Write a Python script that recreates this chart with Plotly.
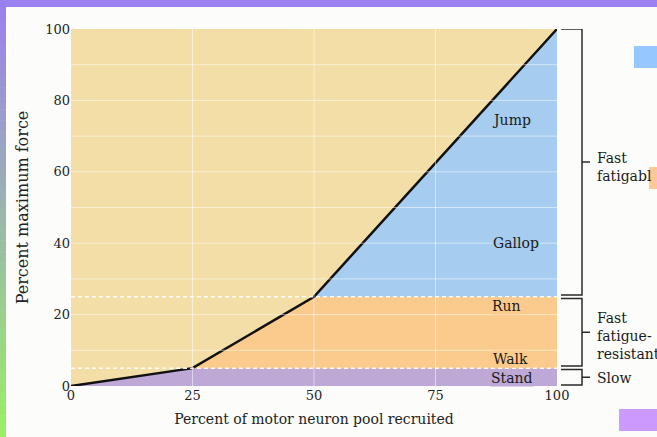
import plotly.graph_objects as go

# ---- data ----
recruit_pct = [0, 25, 50, 100]          # percent of motor neuron pool recruited
force_pct = [0, 5, 25, 100]             # percent maximum force
slow_top = 5                            # Slow units up to 5 %
ffr_top = 25                            # Fast fatigue-resistant up to 25 %
activity_labels = ["Jump", "Gallop", "Run", "Walk", "Stand"]
activity_x = [90.7, 91.5, 89.7, 90.5, 90.7]
activity_y = [74.5, 40, 22.4, 7.6, 2.2]
x_ticks = [0, 25, 50, 75, 100]
y_ticks = [0, 20, 40, 60, 80, 100]
group_labels = ["Fast<br>fatigabl", "Fast<br>fatigue-<br>resistant", "Slow"]
group_ranges = [(25.5, 100), (5.6, 24.5), (0.3, 4.6)]

TAN = "#F2DEA6"
BLUE = "#A6CDEF"
ORANGE = "#FBCB8E"
PURPLE = "#BDA8D6"
FONT = "DejaVu Serif"

W, H = 657, 437
L, R, T, B = 71, 100, 29, 51
PW, PH = W - L - R, H - T - B


def px(xp):
    return (xp - L) / PW


def py(yp):
    return (H - B - yp) / PH


fig = go.Figure()

# region fills built from the recruitment curve
fig.add_trace(go.Scatter(x=[recruit_pct[0], recruit_pct[1], recruit_pct[3], recruit_pct[3]],
                         y=[force_pct[0], slow_top, slow_top, force_pct[0]],
                         fill="toself", fillcolor=PURPLE, line=dict(width=0),
                         mode="lines", hoverinfo="skip", showlegend=False))
fig.add_trace(go.Scatter(x=[recruit_pct[1], recruit_pct[2], recruit_pct[3], recruit_pct[3]],
                         y=[slow_top, ffr_top, ffr_top, slow_top],
                         fill="toself", fillcolor=ORANGE, line=dict(width=0),
                         mode="lines", hoverinfo="skip", showlegend=False))
fig.add_trace(go.Scatter(x=[recruit_pct[2], recruit_pct[3], recruit_pct[3]],
                         y=[ffr_top, force_pct[3], ffr_top],
                         fill="toself", fillcolor=BLUE, line=dict(width=0),
                         mode="lines", hoverinfo="skip", showlegend=False))

shapes = []
for v in range(10, 100, 10):
    shapes.append(dict(type="line", xref="x", yref="y", x0=0, x1=100, y0=v, y1=v,
                       line=dict(color="rgba(255,255,255,0.5)", width=1), layer="above"))
for v in x_ticks[1:-1]:
    shapes.append(dict(type="line", xref="x", yref="y", x0=v, x1=v, y0=0, y1=100,
                       line=dict(color="rgba(255,255,255,0.5)", width=1), layer="above"))
for v in (slow_top, ffr_top):
    shapes.append(dict(type="line", xref="x", yref="y", x0=0, x1=100, y0=v, y1=v,
                       line=dict(color="rgba(255,255,255,0.9)", width=1.5, dash="4px,3px"),
                       layer="above"))

# brackets
bx0, bx1, bx2 = px(561), px(582), px(590)
for (y0, y1) in group_ranges:
    ym = (y0 + y1) / 2
    shapes.append(dict(type="path", xref="paper", yref="y",
                       path=f"M {bx0},{y1} L {bx1},{y1} L {bx1},{y0} L {bx0},{y0}",
                       line=dict(color="#2a2a2a", width=1.5), layer="above"))
    shapes.append(dict(type="line", xref="paper", yref="y", x0=bx1, x1=bx2, y0=ym, y1=ym,
                       line=dict(color="#2a2a2a", width=1.5), layer="above"))

# decorative frame: top bar and left gradient bar
shapes.append(dict(type="rect", xref="paper", yref="paper", x0=px(0), x1=px(W), y0=py(7), y1=py(0),
                   fillcolor="#9B80F0", line=dict(width=0), layer="above"))
n = 40
c0 = (155, 128, 240)
c1 = (153, 238, 102)
for i in range(n):
    t = i / (n - 1)
    c = tuple(round(c0[k] + (c1[k] - c0[k]) * t) for k in range(3))
    ya = i * H / n
    yb = (i + 1) * H / n + 0.5
    shapes.append(dict(type="rect", xref="paper", yref="paper", x0=px(0), x1=px(6),
                       y0=py(yb), y1=py(ya), fillcolor=f"rgb{c}", line=dict(width=0),
                       layer="above"))
shapes.append(dict(type="rect", xref="paper", yref="paper", x0=px(634), x1=px(657),
                   y0=py(68), y1=py(46), fillcolor="#96C8FF", line=dict(width=0), layer="above"))
shapes.append(dict(type="rect", xref="paper", yref="paper", x0=px(649), x1=px(657),
                   y0=py(189), y1=py(167), fillcolor="#FFC896", line=dict(width=0), layer="above"))
shapes.append(dict(type="rect", xref="paper", yref="paper", x0=px(619), x1=px(657),
                   y0=py(431), y1=py(409), fillcolor="#CC99FF", line=dict(width=0), layer="above"))

# recruitment curve
fig.add_trace(go.Scatter(x=recruit_pct, y=force_pct, mode="lines",
                         line=dict(color="#111111", width=2.5), hoverinfo="skip",
                         showlegend=False))

annotations = []
bgs = [BLUE, BLUE, ORANGE, ORANGE, PURPLE]
for lab, x, y, bg in zip(activity_labels, activity_x, activity_y, bgs):
    annotations.append(dict(x=x, y=y, xref="x", yref="y", text=lab, showarrow=False,
                            font=dict(family=FONT, size=14, color="#1a1a1a"),
                            bgcolor=bg, borderpad=0))
group_y = [py(167), py(336), py(378)]
for lab, y in zip(group_labels, group_y):
    annotations.append(dict(x=px(595), y=y, xref="paper", yref="paper", text=lab,
                            showarrow=False, xanchor="left", yanchor="middle", align="left",
                            font=dict(family=FONT, size=14, color="#1a1a1a")))

fig.update_layout(
    width=W, height=H,
    margin=dict(l=L, r=R, t=T, b=B),
    paper_bgcolor="#FCFDFB",
    plot_bgcolor=TAN,
    shapes=shapes,
    annotations=annotations,
    font=dict(family=FONT, size=13, color="#222222"),
    xaxis=dict(range=[0, 100], tickvals=x_ticks, showgrid=False, zeroline=False,
               showline=False, ticks="", tickfont=dict(family=FONT, size=13, color="#222"),
               title=dict(text="Percent of motor neuron pool recruited",
                          font=dict(family=FONT, size=14, color="#222"), standoff=12)),
    yaxis=dict(range=[0, 100], tickvals=y_ticks, showgrid=False, zeroline=False,
               showline=False, ticks="", tickfont=dict(family=FONT, size=13, color="#222"),
               title=dict(text="Percent maximum force",
                          font=dict(family=FONT, size=16, color="#222"), standoff=12)),
)

fig.write_html("out.html", config={"displayModeBar": False},
               post_script="document.body.style.margin='0';")
